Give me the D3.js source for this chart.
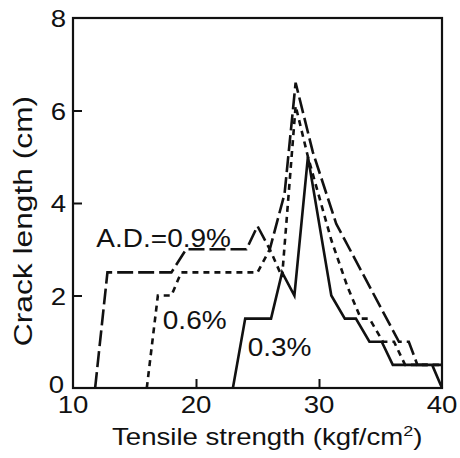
<!DOCTYPE html>
<html>
<head>
<meta charset="utf-8">
<script src="https://cdn.jsdelivr.net/npm/d3@7"></script>
<style>
  body { margin: 0; background: #fff; }
  svg { display: block; font-family: "Liberation Sans", Arial, Helvetica, sans-serif; }
</style>
</head>
<body>
<svg id="chart" width="460" height="458"></svg>
<script>
// crack length vs tensile strength, three A.D. curves

var xTickLabels = [10, 20, 30, 40];
var yTickLabels = [0, 2, 4, 6, 8];
var xTickMarks = [20, 30];
var yTickMarks = [2, 4, 6];

// [tensile strength, crack length]
var ad03 = [[23, 0], [24, 1.5], [26.1, 1.5], [27, 2.5], [28, 2], [29.1, 5], [31, 2], [32.1, 1.5],
            [33, 1.5], [34.1, 1], [35.1, 1], [36, 0.5], [39.2, 0.5], [40, 0]];
var ad06 = [[16, 0], [16.9, 2], [18, 2], [18.8, 2.5], [25, 2.5], [26, 3], [27, 2.4], [28.1, 6.1],
            [29.1, 5.0], [31, 3.2], [32.3, 2.2], [33.4, 1.5], [34.1, 1.5], [35.2, 1], [36.1, 1],
            [37, 0.5], [40, 0.5]];
var ad09 = [[11.8, 0], [12.8, 2.5], [18, 2.5], [19.2, 3], [24.1, 3], [25, 3.5], [26, 3], [27.2, 4.2],
            [28.1, 6.6], [29.5, 5.1], [31.4, 3.55], [36.5, 1], [37.3, 1], [38, 0.5], [40, 0.5]];

var seriesLabels = [
  { text: "A.D.=0.9%", at: [11.9, 3.05] },
  { text: "0.6%", at: [17.3, 1.28] },
  { text: "0.3%", at: [24.2, 0.7] }
];

var svg = d3.select("#chart");
var x = d3.scaleLinear().domain([10, 40]).range([73, 442]);
var y = d3.scaleLinear().domain([0, 8]).range([388, 18]);

function addText(sel, str, px, py, size, sx, anchor, rot) {
  var tr = "translate(" + px + "," + py + ")" + (rot ? " rotate(" + rot + ")" : "") + " scale(" + sx + ",1)";
  return sel.append("text")
    .attr("transform", tr)
    .attr("text-anchor", anchor)
    .attr("font-size", size)
    .attr("fill", "#111")
    .text(str);
}

// inward ticks
svg.append("g")
  .attr("transform", "translate(0," + y(0) + ")")
  .call(d3.axisBottom(x).tickValues(xTickMarks).tickSize(-9).tickFormat(""))
  .call(function(g) { g.select(".domain").remove(); })
  .selectAll("line").attr("stroke", "#111").attr("stroke-width", 2);

svg.append("g")
  .attr("transform", "translate(" + x(10) + ",0)")
  .call(d3.axisLeft(y).tickValues(yTickMarks).tickSize(-9).tickFormat(""))
  .call(function(g) { g.select(".domain").remove(); })
  .selectAll("line").attr("stroke", "#111").attr("stroke-width", 2);

// frame
svg.append("rect")
  .attr("x", x(10)).attr("y", y(8))
  .attr("width", x(40) - x(10)).attr("height", y(0) - y(8))
  .attr("fill", "none").attr("stroke", "#111").attr("stroke-width", 2.2);

// tick labels
xTickLabels.forEach(function(v) {
  addText(svg, v, x(v), 413, 23, 1.2, "middle");
});
yTickLabels.forEach(function(v) {
  // the 0 sits a little higher so it only grazes the "10" below it
  var py = v === 0 ? y(v) + 5 : y(v) + 9;
  addText(svg, v, v === 0 ? 64 : 66, py, 23, 1.2, "end");
});

// axis titles
var xt = addText(svg, "Tensile strength (kgf/cm", 112, 445, 23, 1.2, "start");
xt.append("tspan").attr("dy", -9).attr("font-size", 15).text("2");
xt.append("tspan").attr("dy", 9).text(")");

addText(svg, "Crack length (cm)", 32, 221, 26, 1.22, "middle", -90);

// curves
var line = d3.line()
  .x(function(d) { return x(d[0]); })
  .y(function(d) { return y(d[1]); });

function drawCurve(data, dash) {
  svg.append("path")
    .datum(data)
    .attr("d", line)
    .attr("fill", "none")
    .attr("stroke", "#111")
    .attr("stroke-width", 2.6)
    .attr("stroke-linejoin", "miter")
    .attr("stroke-dasharray", dash);
}

drawCurve(ad09, "16,5");
drawCurve(ad06, "6,5");
drawCurve(ad03, null);

seriesLabels.forEach(function(s) {
  addText(svg, s.text, x(s.at[0]), y(s.at[1]), 25, 1.12, "start");
});
</script>
</body>
</html>
